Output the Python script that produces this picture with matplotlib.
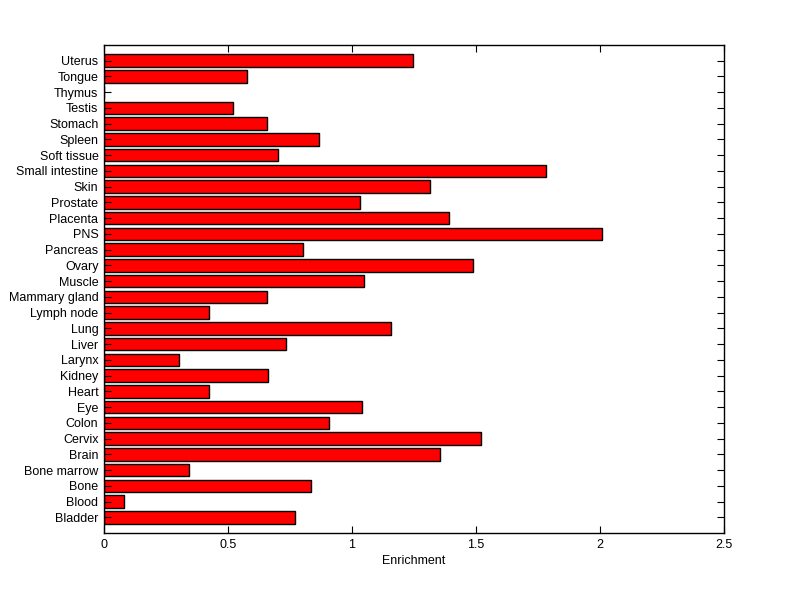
import matplotlib
matplotlib.use("Agg")
import matplotlib.pyplot as plt
import numpy as np

# tissues, bottom to top as drawn
tissues = ["Bladder", "Blood", "Bone", "Bone marrow", "Brain", "Cervix", "Colon", "Eye",
           "Heart", "Kidney", "Larynx", "Liver", "Lung", "Lymph node", "Mammary gland",
           "Muscle", "Ovary", "Pancreas", "PNS", "Placenta", "Prostate", "Skin",
           "Small intestine", "Soft tissue", "Spleen", "Stomach", "Testis", "Thymus",
           "Tongue", "Uterus"]
enrichment = [0.770, 0.081, 0.835, 0.344, 1.355, 1.522, 0.907, 1.040,
              0.423, 0.663, 0.304, 0.734, 1.157, 0.423, 0.659,
              1.048, 1.489, 0.802, 2.008, 1.392, 1.032, 1.315,
              1.782, 0.702, 0.868, 0.659, 0.520, 0.0,
              0.577, 1.246]
xticks = [0, 0.5, 1, 1.5, 2, 2.5]
xticklabels = ["0", "0.5", "1", "1.5", "2", "2.5"]

plt.rcParams['font.family'] = ['Liberation Sans', 'DejaVu Sans']

fig = plt.figure(figsize=(8, 5.99), dpi=100)
ax = fig.add_axes([0.13, 0.11, 0.775, 0.815])

pos = np.arange(1, len(tissues) + 1)
ax.barh(pos, enrichment, height=0.8, color='#ff0000', edgecolor='black', linewidth=1.0)

ax.set_xlim(0, 2.5)
ax.set_ylim(0, len(tissues) + 1)
ax.set_xticks(xticks)
ax.set_xticklabels(xticklabels)
ax.set_yticks(pos)
ax.set_yticklabels(tissues)
ax.tick_params(direction='in', length=5, width=0.8, top=True, right=True,
               labelsize=9, pad=4, colors='black')
for s in ax.spines.values():
    s.set_linewidth(1.0)
ax.set_xlabel("Enrichment", fontsize=9, labelpad=3)

fig.savefig("out.png", dpi=100, facecolor='white')
